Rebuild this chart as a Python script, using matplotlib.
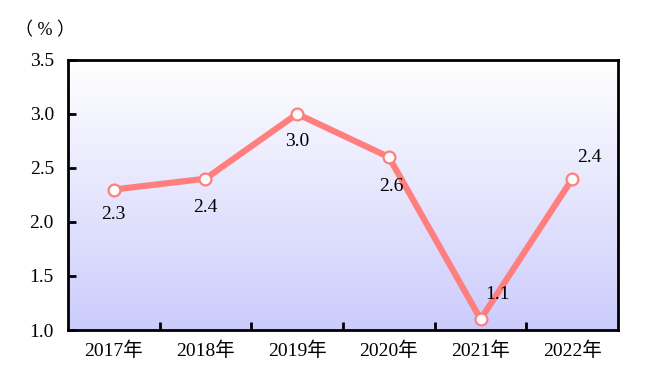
import matplotlib
matplotlib.use('Agg')
import matplotlib.pyplot as plt
import numpy as np

years = ['2017年', '2018年', '2019年', '2020年', '2021年', '2022年']
values = [2.3, 2.4, 3.0, 2.6, 1.1, 2.4]
labels = ['2.3', '2.4', '3.0', '2.6', '1.1', '2.4']
# label offsets in points (dx, dy)
offsets = [(0, -18), (0, -21), (0, -20), (2, -21), (12, 18), (12, 15)]

plt.rcParams['font.family'] = ['Liberation Serif', 'Noto Sans CJK SC']

fig = plt.figure(figsize=(6.46, 3.86), dpi=100)
ax = fig.add_axes([0.105, 0.145, 0.852, 0.70])

x = np.arange(len(years))

# gradient background: white at top, lavender at bottom
grad = np.linspace(0, 1, 256).reshape(-1, 1)
top = np.array([1.0, 1.0, 1.0])
bottom = np.array([0.80, 0.80, 0.99])
img = top + (bottom - top) * grad[..., None]
ax.imshow(img, extent=[0, 1, 0, 1], transform=ax.transAxes,
          aspect='auto', zorder=0)

ax.plot(x, values, color='#ff7f7f', linewidth=4.5, zorder=2,
        solid_capstyle='round')
ax.plot(x, values, 'o', markersize=8.5, markerfacecolor='white',
        markeredgecolor='#ff7f7f', markeredgewidth=1.6, zorder=3)

for xi, v, lab, (dx, dy) in zip(x, values, labels, offsets):
    ax.annotate(lab, (xi, v), xytext=(dx, dy), textcoords='offset points',
                ha='center', va='center', fontsize=14)

ax.set_xlim(-0.5, 5.5)
ax.set_ylim(1.0, 3.5)
ax.set_yticks([1.0, 1.5, 2.0, 2.5, 3.0, 3.5])
ax.set_yticklabels(['1.0', '1.5', '2.0', '2.5', '3.0', '3.5'], fontsize=14)
ax.set_xticks(x)
ax.set_xticklabels(years, fontsize=14)
ax.set_xticks(np.arange(0.5, 5.5, 1), minor=True)
ax.tick_params(axis='x', which='major', length=0, pad=8)
ax.tick_params(axis='x', which='minor', direction='in', length=6, width=2)
ax.tick_params(axis='y', direction='in', length=6, width=2, pad=10)

for s in ax.spines.values():
    s.set_linewidth(2)

fig.text(0.07, 0.92, '（ % ）', fontsize=13, ha='center', va='center')

fig.savefig('out.png', dpi=100)
